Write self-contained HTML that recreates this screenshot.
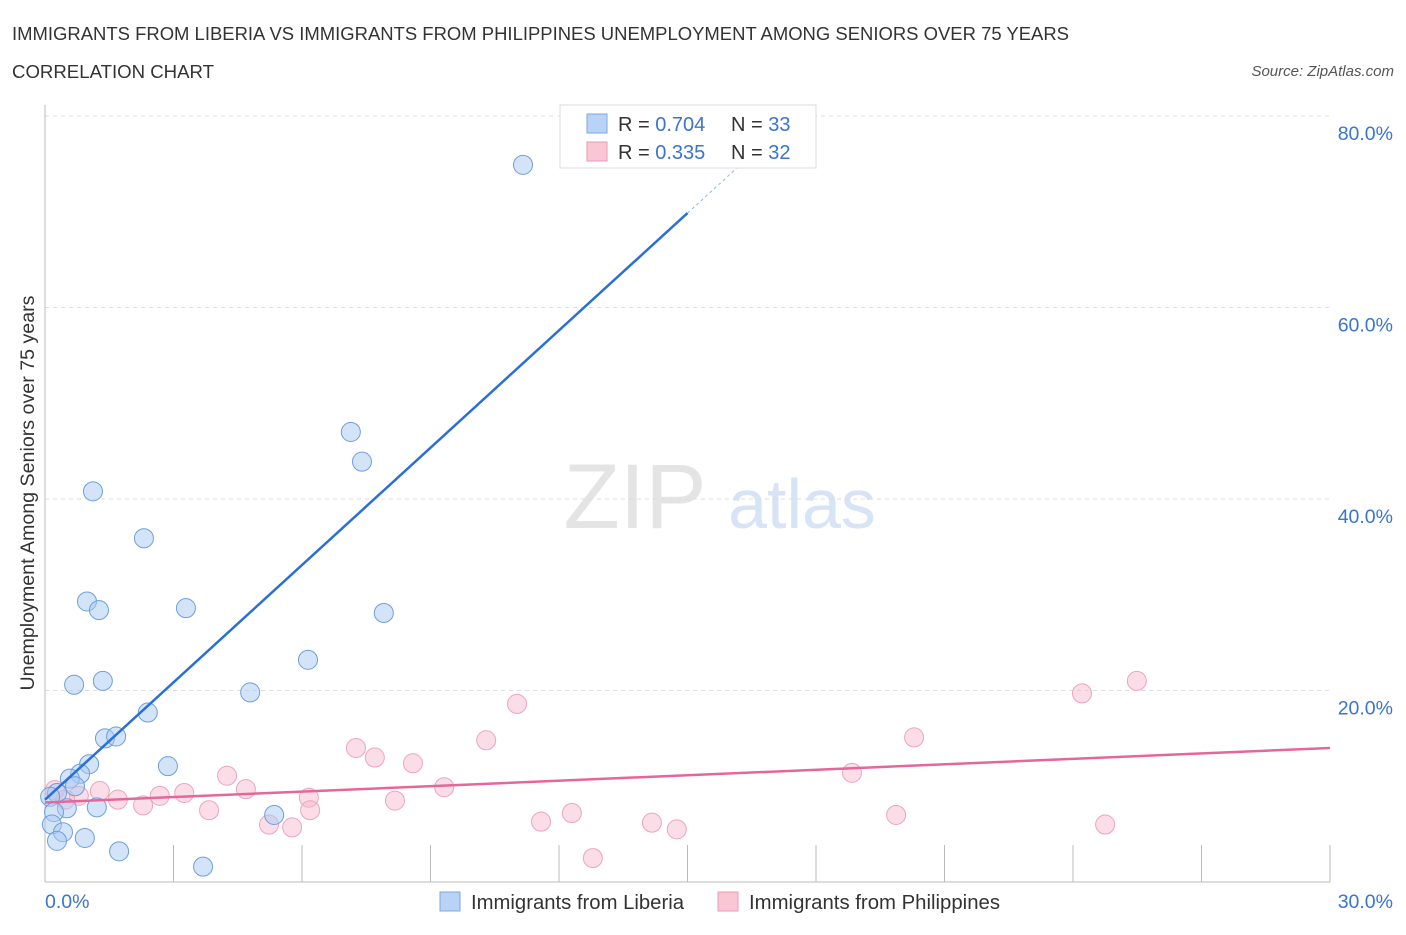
<!DOCTYPE html>
<html><head><meta charset="utf-8"><style>
body{margin:0;background:#fff;font-family:"Liberation Sans",sans-serif;}
svg text{font-family:"Liberation Sans",sans-serif;}
</style></head><body>
<svg id="chart" width="1406" height="930">
<text x="12" y="40" font-size="18" fill="#333" textLength="1057" lengthAdjust="spacingAndGlyphs">IMMIGRANTS FROM LIBERIA VS IMMIGRANTS FROM PHILIPPINES UNEMPLOYMENT AMONG SENIORS OVER 75 YEARS</text>
<text x="12" y="78" font-size="18" fill="#333" textLength="202" lengthAdjust="spacingAndGlyphs">CORRELATION CHART</text>
<text x="1394" y="76" font-size="15" fill="#555" font-style="italic" text-anchor="end">Source: ZipAtlas.com</text>
<text x="635" y="528" font-size="92" fill="#e4e4e4" font-family="Liberation Serif" text-anchor="middle">ZIP</text>
<text x="802" y="528" font-size="70" fill="#d6e4f5" text-anchor="middle">atlas</text>
<text transform="translate(34,493) rotate(-90)" font-size="19.5" fill="#333" text-anchor="middle" textLength="395" lengthAdjust="spacingAndGlyphs">Unemployment Among Seniors over 75 years</text>
<g id="grid"></g>
<g id="marks"></g>
<g>
<rect x="560" y="105" width="256" height="63" fill="#fff" stroke="#ddd"/>
<rect x="587" y="114" width="20" height="19" fill="#b8d3f5" stroke="#7aa8e0"/>
<rect x="587" y="142" width="20" height="19" fill="#f9c6d4" stroke="#eb9bb4"/>
<text x="618" y="131" font-size="20" fill="#333">R = <tspan fill="#3a74d0">0.704</tspan></text>
<text x="731" y="131" font-size="20" fill="#333">N = <tspan fill="#3a74d0">33</tspan></text>
<text x="618" y="159" font-size="20" fill="#333">R =  <tspan fill="#3a74d0">0.335</tspan></text>
<text x="731" y="159" font-size="20" fill="#333">N = <tspan fill="#3a74d0">32</tspan></text>
</g>
<g>
<rect x="440" y="892" width="20" height="19" fill="#b8d3f5" stroke="#7aa8e0"/>
<text x="471" y="909" font-size="20" fill="#333" textLength="213" lengthAdjust="spacingAndGlyphs">Immigrants from Liberia</text>
<rect x="718" y="892" width="20" height="19" fill="#f9c6d4" stroke="#eb9bb4"/>
<text x="749" y="909" font-size="20" fill="#333" textLength="251" lengthAdjust="spacingAndGlyphs">Immigrants from Philippines</text>
</g>
</svg>
<script>
const yTicks=[20,40,60,80];
const yTickLabels=["20.0%","40.0%","60.0%","80.0%"];
const xTicks=[0,3,6,9,12,15,18,21,24,27,30];
const liberiaX=[11.16,7.14,7.40,1.12,2.31,0.98,1.26,3.29,7.91,6.14,0.68,1.35,4.79,2.40,1.40,1.66,2.87,1.03,0.82,0.58,0.70,0.28,0.12,1.21,0.51,0.21,5.35,0.16,0.42,0.28,0.93,1.73,3.69];
const liberiaY=[74.9,47.0,43.9,40.8,35.9,29.3,28.4,28.6,28.1,23.2,20.6,21.0,19.8,17.7,15.0,15.2,12.1,12.3,11.3,10.8,10.0,9.3,8.9,7.8,7.7,7.3,7.0,6.0,5.2,4.3,4.6,3.2,1.6];
const philX=[11.02,25.49,24.21,20.29,10.30,7.26,7.70,8.59,18.84,4.25,4.69,9.32,3.25,2.68,1.28,1.70,2.29,0.79,0.23,0.47,6.16,8.17,3.83,6.19,19.87,12.30,11.58,14.17,14.75,5.23,5.77,24.75,12.79];
const philY=[18.6,21.0,19.7,15.1,14.8,14.0,13.0,12.4,11.4,11.1,9.7,9.9,9.3,9.0,9.5,8.6,8.0,9.0,9.6,8.6,8.8,8.5,7.5,7.5,7.0,7.2,6.3,6.2,5.5,6.0,5.7,6.0,2.5];
const liberiaTrend=[8.6,4.084];
const philTrend=[8.3,0.19];
const NS="http://www.w3.org/2000/svg";
const sx=v=>45+v/30*1285;
const sy=v=>882-v/20*191.5;
function mk(tag,attrs,parent){const e=document.createElementNS(NS,tag);for(const k in attrs)e.setAttribute(k,attrs[k]);parent.appendChild(e);return e;}
const grid=document.getElementById('grid'),marks=document.getElementById('marks');
yTicks.forEach((t,i)=>{
 const l=mk('line',{x1:45,x2:1330,y1:sy(t),y2:sy(t),stroke:'#ddd','stroke-dasharray':'4,4'},grid);
 
 
 const tx=mk('text',{x:1393,y:sy(t)+24,'font-size':19.5,fill:'#3a74d0','text-anchor':'end'},grid);
 tx.textContent=yTickLabels[i];
 
 
});
mk('line',{x1:45,x2:45,y1:105,y2:882,stroke:'#bbb'},grid);
mk('line',{x1:45,x2:1330,y1:882,y2:882,stroke:'#bbb'},grid);
xTicks.forEach(t=>{
 const l=mk('line',{x1:sx(t),x2:sx(t),y1:845,y2:882,stroke:'#bbb'},grid);
 
 
});
const x0=mk('text',{x:45,y:908,'font-size':19.5,fill:'#3a74d0'},grid);x0.textContent='0.0%';


const x1=mk('text',{x:1393,y:908,'font-size':19.5,fill:'#3a74d0','text-anchor':'end'},grid);x1.textContent='30.0%';


philX.forEach((x,i)=>{
 const c=mk('circle',{cx:sx(x),cy:sy(philY[i]),r:9.5,fill:'rgba(246,180,202,0.45)',stroke:'#eba5bd','stroke-width':1},marks);
 
 
});
liberiaX.forEach((x,i)=>{
 const c=mk('circle',{cx:sx(x),cy:sy(liberiaY[i]),r:9.5,fill:'rgba(170,202,242,0.5)',stroke:'#6d9fdc','stroke-width':1},marks);
 
 
});
const pl=mk('line',{x1:sx(0),y1:sy(philTrend[0]),x2:sx(30),y2:sy(philTrend[0]+philTrend[1]*30),stroke:'#e5679a','stroke-width':2.5},marks);


const xe=15.0,xd=16.5;
const bl=mk('line',{x1:sx(0),y1:sy(liberiaTrend[0]),x2:sx(xe),y2:sy(liberiaTrend[0]+liberiaTrend[1]*xe),stroke:'#2a6fd6','stroke-width':2.5},marks);


const bd=mk('line',{x1:sx(xe),y1:sy(liberiaTrend[0]+liberiaTrend[1]*xe),x2:sx(xd),y2:sy(liberiaTrend[0]+liberiaTrend[1]*xd),stroke:'#8fb3e6','stroke-width':1,'stroke-dasharray':'3,3'},marks);


</script>
</body></html>
